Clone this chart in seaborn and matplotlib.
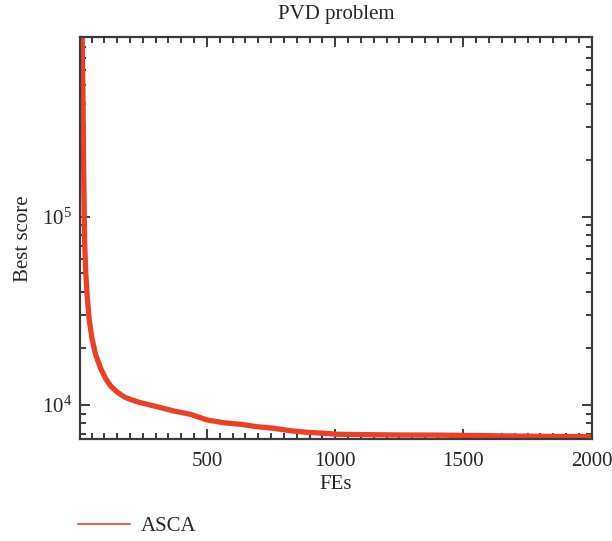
import matplotlib
matplotlib.use("Agg")
import matplotlib.pyplot as plt
import matplotlib.ticker as mticker
import seaborn as sns
import pandas as pd

# Data
fes = [1, 10, 14, 17, 19, 21, 23, 27, 33, 41, 52, 66, 87, 105, 125, 150,
       180, 210, 240, 305, 370, 435, 500, 565, 630, 695, 760, 825, 890, 955,
       1007, 1110, 1250, 1400, 1565, 1700, 1850, 2000]
best_score = [2.0e6, 1.5e6, 8.0e5, 4.0e5, 2.0e5, 1.1e5, 75000, 52000, 38000,
              28300, 22500, 18500, 15500, 13800, 12600, 11700, 11000, 10600,
              10300, 9800, 9300, 8930, 8330, 8050, 7900, 7670, 7520, 7300,
              7160, 7080, 6990, 6960, 6930, 6920, 6880, 6840, 6810, 6790]
series_name = "ASCA"
title = "PVD problem"
xlabel = "FEs"
ylabel = "Best score"
x_ticks = [500, 1000, 1500, 2000]

df = pd.DataFrame({"FEs": fes, "score": best_score, "alg": series_name})

sns.set_style("ticks")
plt.rcParams["font.family"] = ["Liberation Serif", "DejaVu Serif"]
plt.rcParams["mathtext.fontset"] = "custom"
plt.rcParams["mathtext.rm"] = "Liberation Serif"
plt.rcParams["mathtext.it"] = "Liberation Serif:italic"

fig = plt.figure(figsize=(6.12, 5.41), dpi=100)
ax = fig.add_axes([80 / 612, 1 - 439.3 / 541, (591.7 - 80) / 612, (439.3 - 37.3) / 541])

line_color = "#EE3F24"
sns.lineplot(data=df, x="FEs", y="score", ax=ax, color=line_color,
             linewidth=3.8, label=series_name, legend=False)

ax.set_yscale("log")
ax.set_xlim(5, 2000)
ax.set_ylim(6573, 9.0e5)

ax.xaxis.set_major_locator(mticker.FixedLocator(x_ticks))
ax.xaxis.set_minor_locator(mticker.MultipleLocator(50))
ax.yaxis.set_major_locator(mticker.LogLocator(base=10, numticks=10))
ax.yaxis.set_minor_locator(mticker.LogLocator(base=10, subs=range(2, 10), numticks=20))
ax.yaxis.set_minor_formatter(mticker.NullFormatter())

spine_color = "#3c3c3c"
for s in ax.spines.values():
    s.set_color(spine_color)
    s.set_linewidth(1.6)
    s.set_visible(True)

ax.tick_params(which="both", direction="in", top=True, right=True,
               color=spine_color, labelsize=15, width=1.4)
ax.tick_params(which="major", length=7)
ax.tick_params(axis="x", which="major", pad=9)
ax.tick_params(axis="y", which="major", pad=6)
ax.tick_params(which="minor", length=4)

ax.set_title(title, fontsize=15, pad=13)
ax.set_xlabel(xlabel, fontsize=15, labelpad=3)
ax.set_ylabel(ylabel, fontsize=15, labelpad=6)

handles, labels = ax.get_legend_handles_labels()
leg = fig.legend(handles, labels, loc="center left",
                 bbox_to_anchor=(78 / 612, 1 - 526 / 541), frameon=False,
                 fontsize=15, handlelength=2.5, handletextpad=0.5,
                 borderpad=0, borderaxespad=0)
for l in leg.get_lines():
    l.set_linewidth(1.2)

fig.savefig("out.png", dpi=100)
